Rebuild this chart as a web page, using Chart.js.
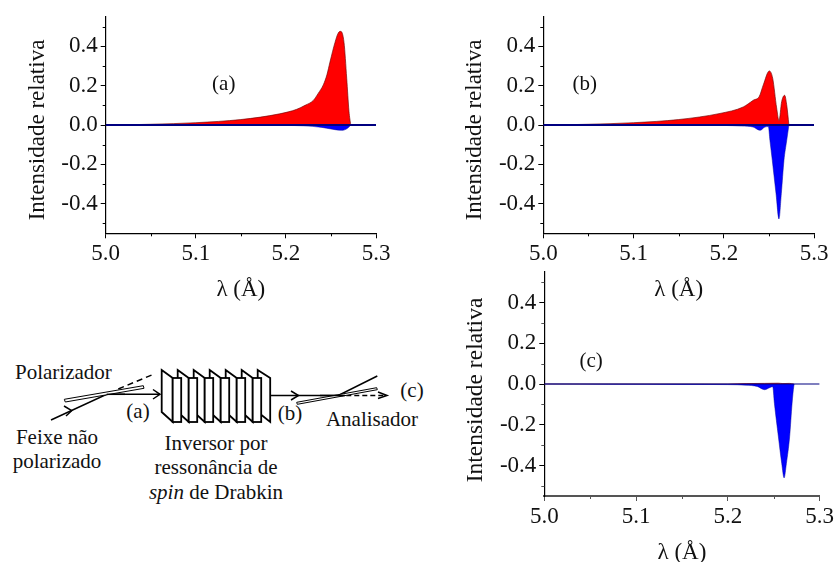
<!DOCTYPE html>
<html>
<head>
<meta charset="utf-8">
<title>Intensidade relativa</title>
<script src="https://cdn.jsdelivr.net/npm/chart.js@4"></script>
<style>
  html, body { margin: 0; padding: 0; background: #fff; overflow: hidden; }
  body { position: relative; width: 836px; height: 562px; }
  canvas, svg { position: absolute; }
  svg text { font-family: "Liberation Serif", serif; font-size: 21px; fill: #111; }
</style>
</head>
<body>
<canvas id="chartA" width="400" height="307" style="left:0;top:0"></canvas>
<canvas id="chartB" width="399" height="307" style="left:437px;top:0"></canvas>
<canvas id="chartC" width="398" height="318" style="left:438px;top:250px"></canvas>

<svg id="diagram" width="430" height="200" viewBox="0 350 430 200" style="left:0;top:350px">
  <g fill="none" stroke="#000" stroke-width="1.5">
    <polyline points="51,420 106.7,394.3 160,394.3"/>
    <polyline points="64,406 71.7,410.7 66,416"/>
    <polyline points="153,389.5 160,394.3 153,399"/>
    <line x1="118.3" y1="389" x2="151.7" y2="375" stroke-dasharray="6 4"/>
    <polygon points="64.3,399.3 143.3,385.7 144,388.3 65.3,402" fill="#fff" stroke-width="1"/>
    <line x1="106.7" y1="394.3" x2="125" y2="394.3"/>
  </g>
  <g id="plates" fill="#fff" stroke="#000" stroke-width="1.8"></g>
  <g fill="none" stroke="#000" stroke-width="1.5">
    <polyline points="270,395.5 338.3,395.5 377.3,376"/>
    <polyline points="291,391 298.5,395.5 291,400"/>
    <line x1="338.3" y1="395.5" x2="384" y2="395.5" stroke-dasharray="5 3"/>
    <polyline points="378,392 387,395.5 378,398.5"/>
    <polygon points="296.7,402.3 376.7,387.7 377.3,389.7 297.3,404.3" fill="#fff" stroke-width="1"/>
    <line x1="320" y1="395.5" x2="345" y2="395.5"/>
  </g>
  <text x="15" y="379">Polarizador</text>
  <text x="57" y="444" text-anchor="middle">Feixe não</text>
  <text x="57" y="468" text-anchor="middle">polarizado</text>
  <text x="216" y="450" text-anchor="middle">Inversor por</text>
  <text x="216" y="474" text-anchor="middle">ressonância de</text>
  <text x="216" y="499" text-anchor="middle"><tspan font-style="italic">spin</tspan> de Drabkin</text>
  <text x="138" y="418" text-anchor="middle">(a)</text>
  <text x="290" y="420" text-anchor="middle">(b)</text>
  <text x="412" y="397" text-anchor="middle">(c)</text>
  <text x="372" y="426" text-anchor="middle">Analisador</text>
</svg>

<script>
// axis ticks
const xMinorTicks = [5.05, 5.15, 5.25];
const yMinorTicks = [-0.5, -0.3, -0.1, 0.1, 0.3, 0.5];
const baselineX = [5.0, 5.3];
const baselineY = [0, 0];

// panel (a)
const redAX = [5.0, 5.03, 5.05, 5.1, 5.15, 5.193, 5.212, 5.2212, 5.2304, 5.236, 5.2415, 5.2455, 5.2489, 5.2545, 5.258, 5.2608, 5.2645, 5.2675, 5.27, 5.272];
const redAY = [0, 0.002, 0.004, 0.012, 0.028, 0.057, 0.08, 0.1, 0.125, 0.162, 0.204, 0.255, 0.32, 0.42, 0.467, 0.476, 0.42, 0.238, 0.07, 0];
const blueAX = [5.0, 5.1, 5.15, 5.2, 5.22, 5.24, 5.25, 5.262, 5.268, 5.272];
const blueAY = [0, -0.0003, -0.0007, -0.002, -0.004, -0.012, -0.02, -0.027, -0.018, 0];

// panel (b)
const redBX = [5.0, 5.03, 5.05, 5.1, 5.15, 5.1958, 5.2216, 5.2327, 5.2394, 5.2438, 5.2505, 5.2542, 5.2586, 5.2612, 5.2642, 5.2675, 5.2697, 5.2722];
const redBY = [0, 0.002, 0.004, 0.012, 0.028, 0.059, 0.092, 0.126, 0.146, 0.204, 0.275, 0.238, 0.087, 0.023, 0.12, 0.151, 0.104, 0];
const blueBX = [5.0, 5.15, 5.2, 5.22, 5.2325, 5.2402, 5.2456, 5.2494, 5.2512, 5.2538, 5.2579, 5.2612, 5.2638, 5.2667, 5.2697, 5.2722];
const blueBY = [0, -0.0005, -0.002, -0.005, -0.01, -0.027, -0.01, -0.008, -0.08, -0.18, -0.348, -0.477, -0.348, -0.18, -0.08, 0];

// panel (c)
const redCX = [5.0, 5.2, 5.22, 5.24, 5.255, 5.26, 5.267, 5.272];
const redCY = [0, 0, 0.002, 0.003, 0.004, 0.002, 0.003, 0];
const blueCX = [5.0, 5.07, 5.15, 5.2, 5.22, 5.232, 5.24, 5.2455, 5.2489, 5.2507, 5.2551, 5.2587, 5.2613, 5.2638, 5.2673, 5.27, 5.2719, 5.2725];
const blueCY = [0, -0.001, -0.002, -0.003, -0.006, -0.012, -0.028, -0.018, -0.013, -0.094, -0.26, -0.39, -0.461, -0.39, -0.26, -0.094, -0.01, 0];

const serif = "'Liberation Serif', serif";

function toPoints(xs, ys) {
  return xs.map((x, i) => ({ x: x, y: ys[i] }));
}

// minor ticks are shorter than the major ones, chart.js has only one tickLength
const minorTicksPlugin = {
  id: "minorTicks",
  afterDraw(chart) {
    const { ctx, scales, chartArea } = chart;
    ctx.save();
    ctx.strokeStyle = chart.options.plugins.minorTicks.color;
    ctx.lineWidth = 1;
    xMinorTicks.forEach((v) => {
      const px = Math.round(scales.x.getPixelForValue(v)) + 0.5;
      ctx.beginPath();
      ctx.moveTo(px, chartArea.bottom);
      ctx.lineTo(px, chartArea.bottom + 3);
      ctx.stroke();
    });
    yMinorTicks.forEach((v) => {
      const py = Math.round(scales.y.getPixelForValue(v)) + 0.5;
      ctx.beginPath();
      ctx.moveTo(chartArea.left, py);
      ctx.lineTo(chartArea.left - 3, py);
      ctx.stroke();
    });
    ctx.restore();
  },
};

const panelLabelPlugin = {
  id: "panelLabel",
  afterDraw(chart) {
    const o = chart.options.plugins.panelLabel;
    const { ctx, scales } = chart;
    ctx.save();
    ctx.font = "21px " + serif;
    ctx.fillStyle = "#111";
    ctx.textAlign = "center";
    ctx.textBaseline = "middle";
    ctx.fillText(o.text, scales.x.getPixelForValue(o.x), scales.y.getPixelForValue(o.y));
    ctx.restore();
  },
};

// the y title sits a few px below the middle of the axis in the original
const yTitlePlugin = {
  id: "yTitle",
  afterDraw(chart) {
    const o = chart.options.plugins.yTitle;
    const ctx = chart.ctx;
    ctx.save();
    ctx.translate(38, o.centerY);
    ctx.rotate(-Math.PI / 2);
    ctx.font = o.size + "px " + serif;
    ctx.fillStyle = "#111";
    ctx.textAlign = "center";
    ctx.textBaseline = "middle";
    ctx.fillText("Intensidade relativa", 0, 0);
    ctx.restore();
  },
};

function makePanel(id, p) {
  const ctx = document.getElementById(id).getContext("2d");
  return new Chart(ctx, {
    type: "line",
    data: {
      datasets: [
        {
          data: toPoints(baselineX, baselineY),
          borderColor: "#000080",
          borderWidth: p.baseWidth,
          pointRadius: 0,
          fill: false,
        },
        {
          data: toPoints(p.blueX, p.blueY),
          borderColor: "rgba(0,0,160,0.7)",
          backgroundColor: "#0000ff",
          borderWidth: 0.7,
          pointRadius: 0,
          cubicInterpolationMode: "monotone",
          fill: "origin",
        },
        {
          data: toPoints(p.redX, p.redY),
          borderColor: "rgba(110,0,0,0.8)",
          backgroundColor: "#ff0000",
          borderWidth: 0.8,
          pointRadius: 0,
          cubicInterpolationMode: "monotone",
          fill: "origin",
        },
      ],
    },
    plugins: [minorTicksPlugin, panelLabelPlugin, yTitlePlugin],
    options: {
      responsive: false,
      animation: false,
      events: [],
      layout: { padding: { top: p.top, right: p.right, left: 0, bottom: 0 } },
      plugins: {
        legend: { display: false },
        tooltip: { enabled: false },
        minorTicks: { color: p.axisColor },
        panelLabel: p.label,
        yTitle: { centerY: p.titleY, size: p.titleSize },
      },
      scales: {
        x: {
          type: "linear",
          min: 5.0,
          max: 5.3,
          afterFit: (s) => { s.height = p.xHeight; },
          border: { color: p.axisColor, width: p.axisWidth },
          grid: { drawOnChartArea: false, tickLength: 5, tickColor: p.axisColor },
          ticks: {
            stepSize: 0.1,
            maxRotation: 0,
            autoSkip: false,
            padding: 2,
            color: "#111",
            font: { family: serif, size: 23 },
            callback: (v) => v.toFixed(1),
          },
          title: {
            display: true,
            text: "λ (Å)",
            color: "#111",
            font: { family: serif, size: 23 },
            padding: { top: 0, bottom: p.xTitlePad },
          },
        },
        y: {
          type: "linear",
          min: -0.55,
          max: 0.55,
          afterFit: (s) => { s.width = p.plotLeft; },
          border: { color: "#000", width: 1.2 },
          grid: { drawOnChartArea: false, tickLength: 5, tickColor: "#000" },
          ticks: {
            stepSize: 0.2,
            includeBounds: false,
            autoSkip: false,
            padding: 3,
            color: "#111",
            font: { family: serif, size: 23 },
            callback: (v) => (Math.abs(v) < 0.001 ? "0.0" : v.toFixed(1)),
          },
        },
      },
    },
  });
}

makePanel("chartA", {
  redX: redAX, redY: redAY, blueX: blueAX, blueY: blueAY,
  plotLeft: 105.7, right: 24, top: 14.7, xHeight: 73.7, xTitlePad: 3,
  baseWidth: 2, axisColor: "#000", axisWidth: 1.2, titleY: 130, titleSize: 23,
  label: { text: "(a)", x: 5.131, y: 0.206 },
});
makePanel("chartB", {
  redX: redBX, redY: redBY, blueX: blueBX, blueY: blueBY,
  plotLeft: 106.3, right: 22, top: 14.7, xHeight: 73.7, xTitlePad: 3,
  baseWidth: 2, axisColor: "#000", axisWidth: 1.2, titleY: 130, titleSize: 23,
  label: { text: "(b)", x: 5.046, y: 0.206 },
});
makePanel("chartC", {
  redX: redCX, redY: redCY, blueX: blueCX, blueY: blueCY,
  plotLeft: 106.3, right: 15.7, top: 22, xHeight: 72, xTitlePad: 1,
  baseWidth: 1.2, axisColor: "#555", axisWidth: 2, titleY: 140, titleSize: 23.5,
  label: { text: "(c)", x: 5.051, y: 0.11 },
});

// drabkin flipper plates, back to front so each one hides the next
const plates = document.getElementById("plates");
for (let i = 6; i >= 0; i--) {
  const L = 161.7 + 16 * i;
  const side = i === 6 ? 12.5 : 11;
  const g = document.createElementNS("http://www.w3.org/2000/svg", "polygon");
  g.setAttribute("points", `${L},370 ${L + side},378 ${L + side},422 ${L},412`);
  plates.appendChild(g);
  if (i < 6) {
    const f = document.createElementNS("http://www.w3.org/2000/svg", "rect");
    f.setAttribute("x", L + side);
    f.setAttribute("y", 378);
    f.setAttribute("width", 8.5);
    f.setAttribute("height", 44);
    plates.appendChild(f);
  }
}
</script>
</body>
</html>
